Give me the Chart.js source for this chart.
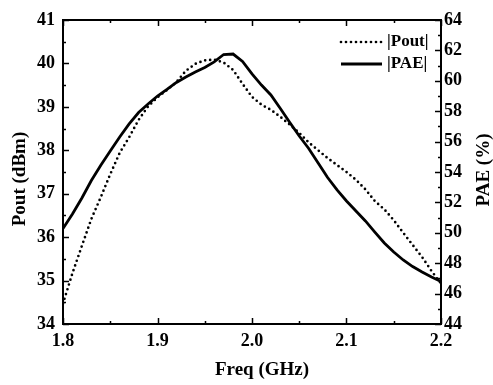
<!DOCTYPE html>
<html>
<head>
<meta charset="utf-8">
<script src="https://cdn.jsdelivr.net/npm/chart.js@4.4.0/dist/chart.umd.min.js"></script>
<style>
  html, body { margin: 0; padding: 0; background: #fff; }
  #wrap { width: 493px; height: 385px; }
</style>
</head>
<body>
<div id="wrap"><canvas id="freqChart" width="493" height="385"></canvas></div>
<script>
// Data
const freq = [1.80, 1.81, 1.82, 1.83, 1.84, 1.85, 1.86, 1.87, 1.88, 1.89,
              1.90, 1.91, 1.92, 1.93, 1.94, 1.95, 1.96, 1.97, 1.98, 1.99,
              2.00, 2.01, 2.02, 2.03, 2.04, 2.05, 2.06, 2.07, 2.08, 2.09,
              2.10, 2.11, 2.12, 2.13, 2.14, 2.15, 2.16, 2.17, 2.18, 2.19, 2.20];
const pout = [34.47, 35.17, 35.80, 36.42, 36.92, 37.45, 37.94, 38.30, 38.70, 39.01,
              39.22, 39.39, 39.57, 39.83, 39.99, 40.07, 40.09, 40.02, 39.85, 39.53,
              39.23, 39.05, 38.93, 38.77, 38.59, 38.40, 38.18, 38.00, 37.82, 37.66,
              37.50, 37.32, 37.10, 36.83, 36.64, 36.39, 36.10, 35.82, 35.54, 35.22, 34.93];
const pae  = [50.28, 51.24, 52.29, 53.44, 54.45, 55.38, 56.30, 57.16, 57.91, 58.47,
              59.00, 59.43, 59.89, 60.25, 60.58, 60.88, 61.24, 61.73, 61.76, 61.27,
              60.45, 59.72, 59.07, 58.18, 57.26, 56.37, 55.55, 54.59, 53.64, 52.82,
              52.09, 51.43, 50.78, 50.05, 49.33, 48.74, 48.21, 47.78, 47.42, 47.09, 46.80];
const seriesNames = ['|Pout|', '|PAE|'];
const axisTitles = { x: 'Freq (GHz)', y: 'Pout (dBm)', y2: 'PAE (%)' };
const xRange = [1.8, 2.2], xStep = 0.1;
const poutRange = [34, 41], poutStep = 1;
const paeRange = [44, 64], paeStep = 2;

const FONT = "'Liberation Serif', 'Times New Roman', serif";

// inward ticks, frame, axis titles and legend drawn on top
const framePlugin = {
    id: 'frame',
    afterDraw(chart) {
        const ctx = chart.ctx;
        const { left, right, top, bottom } = chart.chartArea;
        const x = chart.scales.x, y = chart.scales.y, y2 = chart.scales.y2;
        ctx.save();
        ctx.strokeStyle = '#000';
        ctx.lineWidth = 1.5;
        // x ticks (bottom + top mirror)
        for (let i = 0; i <= 8; i++) {
            const px = Math.round(x.getPixelForValue(xRange[0] + i * xStep / 2)) + 0.5;
            const len = i % 2 === 0 ? 6 : 3;
            ctx.beginPath();
            ctx.moveTo(px, bottom); ctx.lineTo(px, bottom - len);
            ctx.moveTo(px, top); ctx.lineTo(px, top + len);
            ctx.stroke();
        }
        // left ticks
        for (let i = 0; i <= 14; i++) {
            const py = Math.round(y.getPixelForValue(poutRange[0] + i * poutStep / 2)) + 0.5;
            const len = i % 2 === 0 ? 6 : 3;
            ctx.beginPath();
            ctx.moveTo(left, py); ctx.lineTo(left + len, py);
            ctx.stroke();
        }
        // right ticks
        for (let i = 0; i <= 20; i++) {
            const py = Math.round(y2.getPixelForValue(paeRange[0] + i * paeStep / 2)) + 0.5;
            const len = i % 2 === 0 ? 6 : 3;
            ctx.beginPath();
            ctx.moveTo(right, py); ctx.lineTo(right - len, py);
            ctx.stroke();
        }
        // frame
        ctx.lineWidth = 2;
        ctx.strokeRect(left, top, right - left, bottom - top);

        // axis titles
        ctx.fillStyle = '#000';
        ctx.font = 'bold 19px ' + FONT;
        ctx.textAlign = 'center';
        ctx.textBaseline = 'middle';
        ctx.fillText(axisTitles.x, 262, 370);
        ctx.save();
        ctx.translate(20, 179);
        ctx.rotate(-Math.PI / 2);
        ctx.fillText(axisTitles.y, 0, 0);
        ctx.restore();
        ctx.save();
        ctx.translate(484, 170);
        ctx.rotate(-Math.PI / 2);
        ctx.fillText(axisTitles.y2, 0, 0);
        ctx.restore();
        ctx.restore();

        // legend inside the plot, top right
        ctx.save();
        ctx.font = 'bold 17px ' + FONT;
        ctx.textBaseline = 'middle';
        ctx.fillStyle = '#000';
        chart.data.datasets.forEach((ds, i) => {
            const ly = top + 22 + i * 22;
            ctx.beginPath();
            ctx.strokeStyle = ds.borderColor;
            ctx.lineWidth = ds.borderWidth;
            ctx.lineCap = ds.borderCapStyle || 'butt';
            ctx.setLineDash(ds.borderDash || []);
            ctx.moveTo(right - 100, ly);
            ctx.lineTo(right - 59, ly);
            ctx.stroke();
            ctx.setLineDash([]);
            ctx.fillText(ds.label, right - 54, ly);
        });
        ctx.restore();
    }
};

new Chart(document.getElementById('freqChart'), {
    type: 'line',
    data: {
        datasets: [
            {
                label: seriesNames[0],
                data: freq.map((f, i) => ({ x: f, y: pout[i] })),
                yAxisID: 'y',
                borderColor: '#000',
                borderWidth: 2.7,
                borderDash: [0, 5],
                borderCapStyle: 'round',
                pointRadius: 0,
                tension: 0
            },
            {
                label: seriesNames[1],
                data: freq.map((f, i) => ({ x: f, y: pae[i] })),
                yAxisID: 'y2',
                borderColor: '#000',
                borderWidth: 2.8,
                pointRadius: 0,
                tension: 0
            }
        ]
    },
    options: {
        responsive: false,
        animation: false,
        events: [],
        layout: { padding: { top: 20, left: 0, right: 0, bottom: 0 } },
        plugins: { legend: { display: false }, tooltip: { enabled: false } },
        scales: {
            x: {
                type: 'linear',
                min: xRange[0], max: xRange[1],
                afterFit: s => { s.height = 61; },
                afterBuildTicks: s => {
                    s.ticks = [];
                    for (let v = 0; v <= 4; v++) s.ticks.push({ value: +(xRange[0] + v * xStep).toFixed(1) });
                },
                grid: { display: false, drawTicks: false },
                border: { display: false },
                ticks: {
                    padding: 7,
                    color: '#000',
                    font: { family: FONT, size: 18, weight: 'bold' },
                    maxRotation: 0,
                    callback: v => v.toFixed(1)
                }
            },
            y: {
                position: 'left',
                min: poutRange[0], max: poutRange[1],
                afterFit: s => { s.width = 63; },
                grid: { display: false, drawTicks: false },
                border: { display: false },
                ticks: {
                    stepSize: poutStep,
                    padding: 8,
                    color: '#000',
                    font: { family: FONT, size: 18, weight: 'bold' }
                }
            },
            y2: {
                position: 'right',
                min: paeRange[0], max: paeRange[1],
                afterFit: s => { s.width = 52; },
                grid: { display: false, drawTicks: false },
                border: { display: false },
                ticks: {
                    stepSize: paeStep,
                    padding: 3,
                    color: '#000',
                    font: { family: FONT, size: 18, weight: 'bold' }
                }
            }
        }
    },
    plugins: [framePlugin]
});
</script>
</body>
</html>
